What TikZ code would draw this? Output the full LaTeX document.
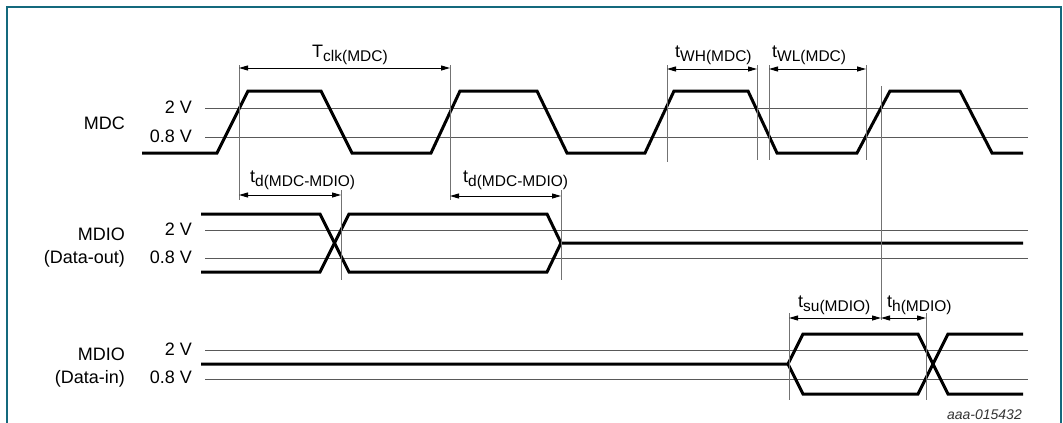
\documentclass[tikz,border=0pt]{standalone}
\usepackage{fontspec}
\setmainfont{Liberation Sans}
\usetikzlibrary{arrows.meta}
\definecolor{framecol}{RGB}{20,105,125}
\newcommand{\tsub}[2]{#1\raisebox{-4pt}{\fontsize{15.5}{16}\selectfont #2}}

\begin{document}
\begin{tikzpicture}[x=1pt,y=-1pt,>={Triangle[length=9pt,width=5pt]},
		wave/.style={line width=3pt,line join=miter},
		level/.style={line width=1pt,black!65},
		guide/.style={line width=1pt,black!55}]
	\useasboundingbox (0,0) rectangle (1063,423);
	\draw[framecol,line width=2pt] (7,423) -- (7,7) -- (1061,7) -- (1061,423);

	% signal names
	\begin{scope}[every node/.style={anchor=base east,inner sep=0pt,font=\fontsize{18}{22}\selectfont}]
		\node (mdc) at (125,129) {MDC};
		\node (outA) at (125,240) {MDIO};
		\node (outB) at (125,263) {(Data-out)};
		\node (inA) at (125,360) {MDIO};
		\node (inB) at (125,383) {(Data-in)};
		\node (mdcH) at (192,113) {2 V};
		\node (mdcL) at (192,142) {0.8 V};
		\node (outH) at (192,235) {2 V};
		\node (outL) at (192,263) {0.8 V};
		\node (inH) at (192,355) {2 V};
		\node (inL) at (192,383) {0.8 V};
	\end{scope}

	% threshold levels
	\draw[level] (205,108) -- (1028,108);
	\draw[level] (205,137) -- (1028,137);
	\draw[level] (205,230) -- (1028,230);
	\draw[level] (205,258) -- (1028,258);
	\draw[level] (205,350) -- (1028,350);
	\draw[level] (205,379) -- (1028,379);

	% waveforms
	\draw[wave] (142,153) -- (217,153) -- (248,91) -- (321,91) -- (352,153) -- (431,153)
		-- (460,91) -- (537,91) -- (567,153) -- (645,153) -- (674,91) -- (748,91)
		-- (777,153) -- (857,153) -- (890,91) -- (960,91) -- (992,153) -- (1023,153);
	\draw[wave] (201,214) -- (320,214) -- (349,272) -- (547,272) -- (561,243) -- (1023,243);
	\draw[wave] (201,272) -- (320,272) -- (349,214) -- (547,214) -- (561,243);
	\draw[wave] (201,364) -- (788,364) -- (803,334) -- (918,334) -- (948,394) -- (1023,394);
	\draw[wave] (788,364) -- (803,394) -- (918,394) -- (948,334) -- (1023,334);

	% timing guides
	\coordinate (g1t) at (239,65); \coordinate (g1b) at (239,200);
	\coordinate (g2t) at (450,65); \coordinate (g2b) at (450,200);
	\coordinate (g3t) at (341,190); \coordinate (g3b) at (341,280);
	\coordinate (g4t) at (561,190); \coordinate (g4b) at (561,280);
	\coordinate (g5t) at (667,65); \coordinate (g5b) at (667,162);
	\coordinate (g6t) at (757,65); \coordinate (g6b) at (757,160);
	\coordinate (g7t) at (769,65); \coordinate (g7b) at (769,160);
	\coordinate (g8t) at (866,65); \coordinate (g8b) at (866,160);
	\coordinate (g9t) at (881,86); \coordinate (g9b) at (881,320);
	\coordinate (g10t) at (789,313); \coordinate (g10b) at (789,400);
	\coordinate (g11t) at (926,313); \coordinate (g11b) at (926,400);
	\draw[guide] (g1t) -- (g1b);
	\draw[guide] (g2t) -- (g2b);
	\draw[guide] (g3t) -- (g3b);
	\draw[guide] (g4t) -- (g4b);
	\draw[guide] (g5t) -- (g5b);
	\draw[guide] (g6t) -- (g6b);
	\draw[guide] (g7t) -- (g7b);
	\draw[guide] (g8t) -- (g8b);
	\draw[guide] (g9t) -- (g9b);
	\draw[guide] (g10t) -- (g10b);
	\draw[guide] (g11t) -- (g11b);

	% dimension arrows
	\coordinate (clkL) at (239,68); \coordinate (clkR) at (450,68);
	\coordinate (dAL) at (239,195); \coordinate (dAR) at (341,195);
	\coordinate (dBL) at (450,196); \coordinate (dBR) at (561,196);
	\coordinate (whL) at (667,69); \coordinate (whR) at (757,69);
	\coordinate (wlL) at (769,69); \coordinate (wlR) at (866,69);
	\coordinate (suL) at (789,318); \coordinate (suR) at (881,318);
	\coordinate (hL) at (881,318); \coordinate (hR) at (926,318);
	\begin{scope}[every edge/.style={draw=black,line width=1pt}]
		\path [<->] (clkL) edge (clkR);
		\path [<->] (dAL) edge (dAR);
		\path [<->] (dBL) edge (dBR);
		\path [<->] (whL) edge (whR);
		\path [<->] (wlL) edge (wlR);
		\path [<->] (suL) edge (suR);
		\path [<->] (hL) edge (hR);
	\end{scope}

	% timing labels
	\begin{scope}[every node/.style={anchor=base west,inner sep=0pt,font=\fontsize{18}{22}\selectfont}]
		\node (tclk) at (312,57) {\tsub{T}{clk(MDC)}};
		\node (tdA) at (250,182) {\tsub{t}{d(MDC-MDIO)}};
		\node (tdB) at (463,182) {\tsub{t}{d(MDC-MDIO)}};
		\node (twh) at (675,57) {\tsub{t}{WH(MDC)}};
		\node (twl) at (772,57) {\tsub{t}{WL(MDC)}};
		\node (tsu) at (798,307) {\tsub{t}{su(MDIO)}};
		\node (th) at (887,307) {\tsub{t}{h(MDIO)}};
	\end{scope}
	\node[anchor=base east,inner sep=0pt,text=black!80,font=\fontsize{14}{16}\selectfont\itshape] (code) at (1022,419) {aaa-015432};
\end{tikzpicture}
\end{document}
